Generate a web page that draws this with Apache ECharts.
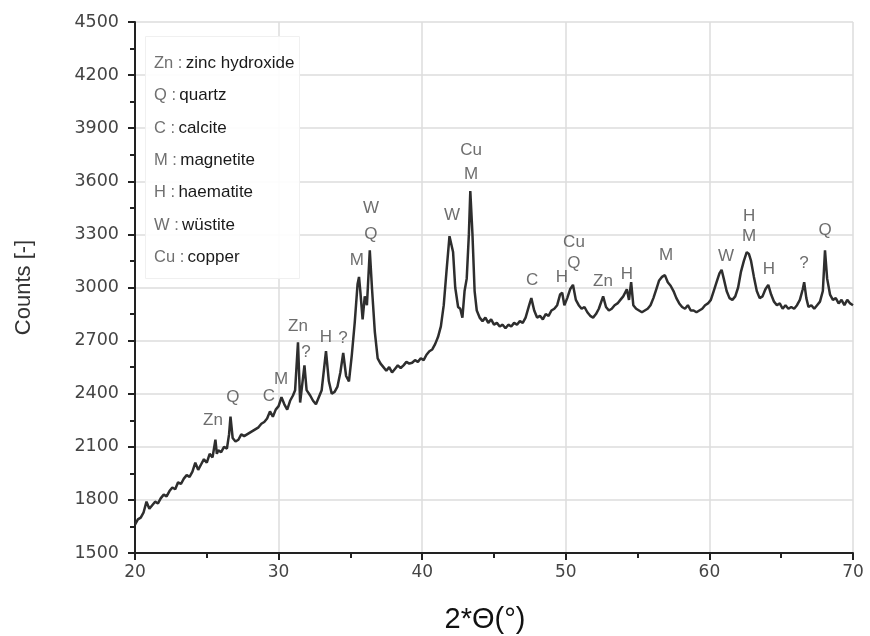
<!DOCTYPE html>
<html><head><meta charset="utf-8">
<script src="https://cdn.jsdelivr.net/npm/echarts@6/dist/echarts.min.js"></script>
<style>html,body{margin:0;padding:0;background:#fff}#c{width:870px;height:636px}</style>
</head><body><div id="c"></div>
<script>
var twoTheta = [20.0,20.2,20.4,20.6,20.8,21.0,21.2,21.4,21.6,21.8,22.0,22.2,22.4,22.6,22.8,23.0,23.2,23.4,23.6,23.8,24.0,24.2,24.4,24.6,24.8,25.0,25.2,25.4,25.6,25.7,25.8,26.0,26.2,26.4,26.55,26.65,26.8,27.0,27.2,27.4,27.6,27.8,28.0,28.2,28.4,28.6,28.8,29.0,29.2,29.4,29.6,29.8,30.0,30.2,30.4,30.6,30.8,31.0,31.15,31.35,31.5,31.6,31.8,31.95,32.2,32.4,32.6,32.8,33.0,33.3,33.5,33.7,33.9,34.1,34.3,34.5,34.7,34.9,35.1,35.3,35.5,35.6,35.7,35.85,36.0,36.15,36.35,36.5,36.7,36.9,37.1,37.3,37.5,37.7,37.9,38.1,38.3,38.5,38.7,38.9,39.1,39.3,39.5,39.7,39.9,40.1,40.3,40.5,40.7,40.9,41.1,41.3,41.5,41.7,41.9,42.0,42.15,42.3,42.5,42.65,42.8,42.95,43.1,43.25,43.35,43.5,43.65,43.8,44.0,44.2,44.4,44.6,44.8,45.0,45.2,45.4,45.6,45.8,46.0,46.2,46.4,46.6,46.8,47.0,47.2,47.45,47.6,47.8,48.0,48.2,48.4,48.6,48.8,49.0,49.2,49.4,49.6,49.75,49.9,50.1,50.3,50.5,50.7,50.9,51.1,51.3,51.5,51.7,51.9,52.1,52.3,52.6,52.8,53.0,53.2,53.4,53.6,53.8,54.0,54.25,54.4,54.55,54.7,54.9,55.1,55.3,55.5,55.7,55.9,56.1,56.3,56.5,56.7,56.9,57.1,57.3,57.5,57.7,57.9,58.1,58.3,58.5,58.7,58.9,59.1,59.3,59.5,59.7,59.9,60.1,60.3,60.5,60.7,60.85,61.0,61.2,61.4,61.6,61.8,62.0,62.2,62.4,62.6,62.75,62.9,63.1,63.3,63.5,63.7,63.9,64.1,64.3,64.5,64.7,64.9,65.1,65.3,65.5,65.7,65.9,66.1,66.3,66.5,66.6,66.75,66.9,67.1,67.3,67.5,67.7,67.9,68.05,68.2,68.4,68.6,68.8,69.0,69.2,69.4,69.6,69.8,70.0];
var counts = [1660,1690,1700,1730,1790,1750,1770,1790,1780,1810,1830,1820,1850,1870,1860,1900,1890,1920,1940,1930,1960,2010,1970,2000,2030,2010,2060,2040,2140,2060,2080,2070,2100,2090,2170,2270,2150,2130,2140,2170,2160,2170,2180,2190,2200,2210,2230,2240,2260,2300,2270,2310,2330,2380,2340,2310,2360,2390,2420,2690,2350,2420,2560,2420,2390,2360,2340,2380,2420,2640,2470,2400,2410,2440,2520,2630,2500,2470,2620,2800,3020,3060,2970,2820,2950,2900,3210,3000,2750,2600,2570,2550,2530,2550,2520,2540,2560,2545,2560,2580,2570,2575,2590,2580,2600,2590,2620,2640,2650,2680,2720,2780,2900,3100,3290,3300,3200,3000,2890,2880,2830,2980,3050,3300,3545,3300,2980,2870,2830,2810,2830,2800,2820,2790,2800,2780,2790,2770,2790,2780,2800,2790,2810,2800,2830,2900,2940,2870,2830,2840,2820,2850,2840,2870,2880,2900,2960,2970,2900,2940,2990,3015,2930,2900,2880,2890,2860,2840,2830,2850,2880,2950,2890,2870,2880,2900,2910,2930,2950,2990,2930,3030,2900,2880,2870,2860,2870,2880,2900,2940,2990,3040,3060,3070,3030,3010,2980,2940,2910,2890,2880,2900,2870,2870,2860,2870,2880,2900,2910,2930,2980,3030,3080,3100,3050,2980,2940,2930,2950,3000,3090,3150,3200,3190,3150,3060,2980,2940,2950,2990,3015,2960,2920,2900,2910,2880,2900,2880,2890,2880,2900,2930,2990,3030,2940,2890,2900,2880,2900,2920,2980,3210,3050,2960,2930,2940,2910,2930,2900,2930,2910,2900];

var peakNames = ['Zn','Q','C','M','Zn','?','H','?','M','Q','W','W','M','Cu','C','H','Cu','Q','Zn','H','M','W','H','M','H','?','Q'];
var peakX = [25.43,26.82,29.33,30.17,31.35,31.9,33.3,34.48,35.45,36.43,36.43,42.08,43.4,43.4,47.65,49.73,50.57,50.57,52.59,54.26,56.98,61.16,62.76,62.76,64.15,66.59,68.05];
var peakY = [2251,2381,2387,2483,2783,2636,2720,2715,3155,3300,3449,3410,3641,3777,3042,3059,3257,3138,3037,3076,3184,3178,3404,3291,3105,3138,3325];

var legendAbbr = ['Zn','Q','C','M','H','W','Cu'];
var legendName = ['zinc hydroxide','quartz','calcite','magnetite','haematite','wüstite','copper'];

var xTicks = [20,30,40,50,60,70];
var yTicks = [1500,1800,2100,2400,2700,3000,3300,3600,3900,4200,4500];

var lineData = twoTheta.map(function(x,i){return [x,counts[i]];});
var labelData = peakX.map(function(x,i){return {value:[x,peakY[i]], name:peakNames[i]};});

var font = '"Liberation Sans", Arial, sans-serif';
var tickFont = '"DejaVu Sans", sans-serif';
var legendGraphics = [{
  type:'rect', left:145, top:36, shape:{width:154,height:242},
  style:{fill:'rgba(255,255,255,0.9)', stroke:'#f0f0f0', lineWidth:1}, z:10
}];
legendAbbr.forEach(function(a,i){
  legendGraphics.push({
    type:'text', left:154, top:55 + i*32.3, z:11,
    style:{
      text:'{a|'+a+' :} {b|'+legendName[i]+'}',
      rich:{a:{fill:'#707070',fontSize:16.5,fontFamily:font},b:{fill:'#1a1a1a',fontSize:17,fontFamily:font}}
    }
  });
});

var chart = echarts.init(document.getElementById('c'), null, {renderer:'canvas'});
chart.setOption({
  backgroundColor:'#fff',
  animation:false,
  grid:{left:135,right:17,top:22,bottom:83,containLabel:false,outerBoundsMode:'none'},
  xAxis:{
    type:'value', min:xTicks[0], max:xTicks[xTicks.length-1], interval:10,
    name:'2*\u0398(\u00b0)', nameLocation:'middle', nameGap:52,
    nameTextStyle:{fontSize:29,color:'#111',fontFamily:font,padding:[0,18,0,0]},
    axisLine:{show:true,lineStyle:{color:'#222',width:2}},
    axisTick:{show:true,inside:false,length:7,lineStyle:{color:'#222',width:2}},
    minorTick:{show:true,splitNumber:2,length:5,lineStyle:{color:'#222',width:2}},
    axisLabel:{fontSize:17,color:'#444',margin:11,fontFamily:tickFont},
    splitLine:{show:true,lineStyle:{color:'#dcdcdc',width:1.5}}
  },
  yAxis:{
    type:'value', min:yTicks[0], max:yTicks[yTicks.length-1], interval:300,
    name:'Counts [-]', nameLocation:'middle', nameGap:100, nameRotate:90,
    nameTextStyle:{fontSize:22,color:'#333',fontFamily:font},
    axisLine:{show:true,lineStyle:{color:'#222',width:2}},
    axisTick:{show:true,inside:false,length:7,lineStyle:{color:'#222',width:2}},
    minorTick:{show:true,splitNumber:2,length:5,lineStyle:{color:'#222',width:2}},
    axisLabel:{fontSize:17.5,color:'#444',margin:16,fontFamily:tickFont,formatter:function(v){return String(v);}},
    splitLine:{show:true,lineStyle:{color:'#dcdcdc',width:1.5}}
  },
  series:[{
    type:'line', data:lineData, showSymbol:false, symbol:'none',
    lineStyle:{color:'#2e2e2e',width:2.5}, z:3
  },{
    type:'scatter', data:labelData, symbolSize:0, silent:true, z:5,
    label:{show:true,position:'inside',formatter:function(p){return p.name;},
      fontSize:17,color:'#4a4a4a',fontFamily:font}
  }],
  graphic:legendGraphics
});
</script></body></html>
